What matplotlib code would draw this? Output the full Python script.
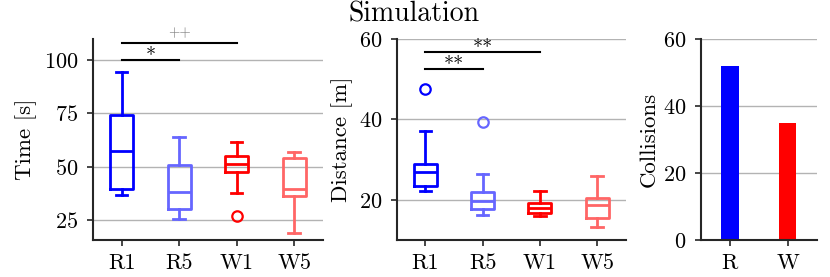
import matplotlib
matplotlib.use("Agg")
import matplotlib.pyplot as plt

plt.rcParams['font.family'] = ['cmr10', 'DejaVu Serif']
plt.rcParams['mathtext.fontset'] = 'cm'
plt.rcParams['axes.formatter.use_mathtext'] = True

groups = ['R1', 'R5', 'W1', 'W5']
colors = ['#0000ff', '#6666ff', '#ff0000', '#ff6666']

# box stats: whislo, q1, med, q3, whishi, fliers
time_stats = [
    (36.6, 39.6, 57.3, 74.3, 94.4, []),
    (25.2, 29.9, 38.2, 51.0, 64.0, []),
    (37.4, 47.6, 51.2, 55.1, 61.6, [26.7]),
    (18.6, 36.3, 39.4, 53.9, 57.0, []),
]
dist_stats = [
    (22.3, 23.5, 26.85, 28.9, 37.2, [47.5]),
    (16.3, 17.6, 19.8, 21.9, 26.5, [39.35]),
    (15.9, 16.8, 17.85, 19.3, 22.3, []),
    (13.2, 15.5, 18.7, 20.5, 26.0, []),
]

bar_labels = ['R', 'W']
collisions = [52, 35]
bar_colors = ['#0000ff', '#ff0000']

spine_col = '#262626'


def to_bxp(stats):
    out = []
    for lo, q1, med, q3, hi, fl in stats:
        out.append(dict(whislo=lo, q1=q1, med=med, q3=q3, whishi=hi, fliers=fl))
    return out


def draw_box(ax, stats):
    ax.yaxis.grid(True, color='#b3b3b3', lw=1)
    ax.set_axisbelow(True)
    bp = ax.bxp(to_bxp(stats), positions=range(1, 5), widths=0.4,
                showfliers=True)
    for i, c in enumerate(colors):
        bp['boxes'][i].set(color=c, lw=2)
        bp['medians'][i].set(color=c, lw=2)
        for w in bp['whiskers'][2 * i:2 * i + 2]:
            w.set(color=c, lw=2)
        for cp in bp['caps'][2 * i:2 * i + 2]:
            cp.set(color=c, lw=2)
        bp['fliers'][i].set(marker='o', markerfacecolor='none',
                            markeredgecolor=c, markersize=7.5, markeredgewidth=1.6)
    ax.set_xticks(range(1, 5))
    ax.set_xticklabels(groups)
    ax.set_xlim(0.5, 4.5)


def style(ax, label, lx):
    for s in ['top', 'right']:
        ax.spines[s].set_visible(False)
    for s in ['left', 'bottom']:
        ax.spines[s].set_linewidth(1.5)
        ax.spines[s].set_color(spine_col)
    ax.tick_params(labelsize=16, width=1.2, length=4.5, color=spine_col)
    ax.tick_params(axis='y', pad=6)
    ax.tick_params(axis='x', pad=5)
    ax.set_ylabel(label, fontsize=16.5)
    ax.yaxis.set_label_coords(lx, 0.5)


def sig(ax, x0, x1, y, txt, color='black', size=14.5, dy=-1.5):
    ax.plot([x0, x1], [y, y], color='black', lw=1.5, clip_on=False)
    ax.annotate(txt, xy=((x0 + x1) / 2, y), xytext=(0, dy),
                textcoords='offset points', ha='center', va='baseline',
                fontsize=size, color=color, annotation_clip=False)


fig = plt.figure(figsize=(8.3, 2.77), dpi=100)
ax1 = fig.add_axes([0.112, 0.1336, 0.277, 0.7254])
ax2 = fig.add_axes([0.478, 0.1336, 0.276, 0.7254])
ax3 = fig.add_axes([0.8446, 0.1336, 0.1394, 0.7254])

draw_box(ax1, time_stats)
ax1.set_ylim(15.5, 110)
ax1.set_yticks([25, 50, 75, 100])
sig(ax1, 1, 2, 100, '*')
sig(ax1, 1, 3, 108.3, '++', color='#808080', size=10.5, dy=4.5)
style(ax1, 'Time [s]', -0.243)

draw_box(ax2, dist_stats)
ax2.set_ylim(10, 60)
ax2.set_yticks([20, 40, 60])
sig(ax2, 1, 2, 52.6, '**')
sig(ax2, 1, 3, 56.9, '**')
style(ax2, 'Distance [m]', -0.192)

ax3.yaxis.grid(True, color='#b3b3b3', lw=1)
ax3.set_axisbelow(True)
ax3.bar(range(len(collisions)), collisions, width=0.3, color=bar_colors)
ax3.set_xticks(range(len(collisions)))
ax3.set_xticklabels(bar_labels)
ax3.set_xlim(-0.5, 1.5)
ax3.set_ylim(0, 60)
ax3.set_yticks([0, 20, 40, 60])
style(ax3, 'Collisions', -0.363)

fig.text(0.4994, 0.922, 'Simulation', fontsize=20, ha='center', va='baseline')

fig.savefig('out.png', dpi=100)
